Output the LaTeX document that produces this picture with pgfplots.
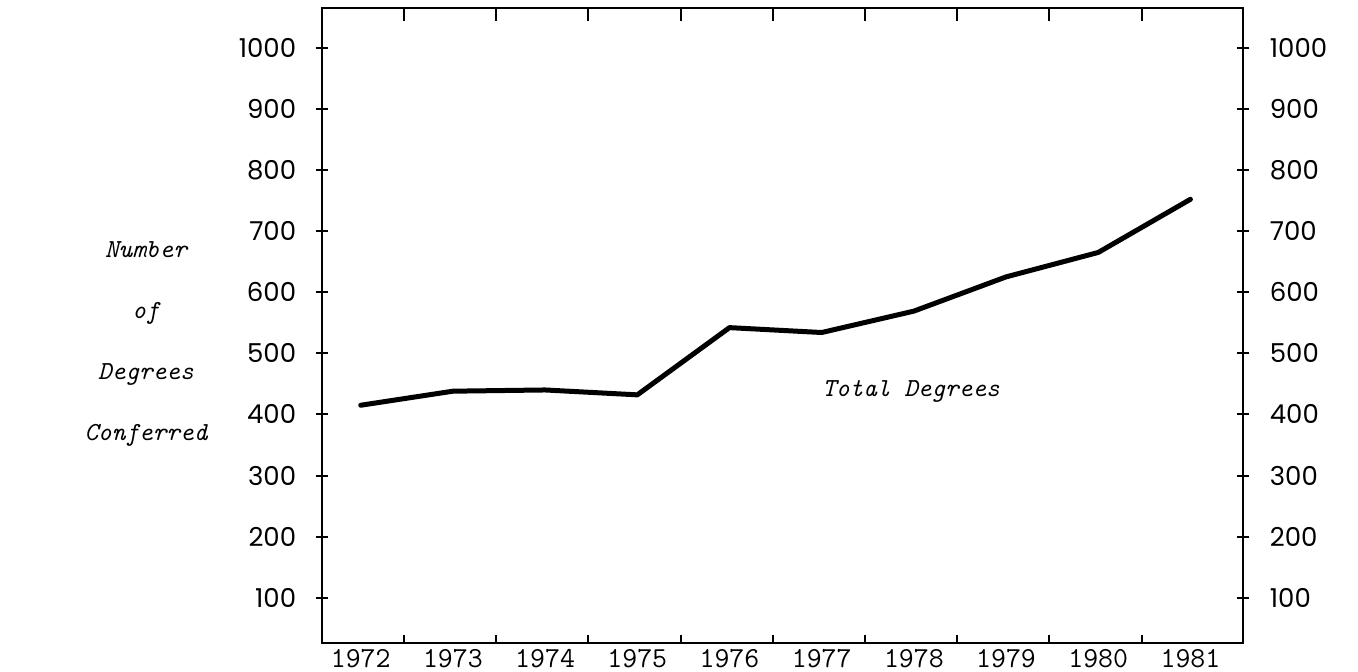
\documentclass[border=0pt]{standalone}
\usepackage{fontspec}
\usepackage{pgfplots}
\pgfplotsset{compat=1.18}
\newfontfamily\pop{Poppins}
\begin{document}
\begin{tikzpicture}
\pgfplotsset{
  common/.style={
    at={(0,0)}, anchor=south west, scale only axis,
    width=460.5pt, height=317.5pt,
    xmin=1971.58, xmax=1981.57, ymin=26, ymax=1065,
    axis line style={line width=1pt, black},
    every tick/.style={line width=1pt, black},
    /pgf/number format/1000 sep={},
    /pgf/number format/assume math mode=true,
    clip=false,
  },
}
% left y axis
\begin{axis}[common,
  tick align=center, major tick length=6.5pt,
  xtick=\empty,
  ytick={100,200,...,1000}, ytick pos=left, yticklabel pos=left,
  yticklabel style={font=\pop\fontsize{13}{15}\selectfont, anchor=east, inner sep=0pt, xshift=-9.5pt},
]
\end{axis}
% right y axis
\begin{axis}[common,
  tick align=center, major tick length=6.5pt,
  xtick=\empty,
  ytick={100,200,...,1000}, ytick pos=right, yticklabel pos=right,
  yticklabel style={font=\pop\fontsize{13}{15}\selectfont, anchor=west, inner sep=0pt, xshift=10pt},
]
\end{axis}
% top x ticks
\begin{axis}[common,
  tick align=inside, major tick length=6.5pt,
  ytick=\empty,
  xtick={1972.47,1973.47,1974.47,1975.47,1976.47,1977.47,1978.47,1979.47,1980.47},
  xtick pos=top, xticklabels={},
]
\end{axis}
% bottom x ticks, labels and data
\begin{axis}[common,
  tick align=inside, major tick length=4pt,
  ytick=\empty,
  xtick={1972.47,1973.47,1974.47,1975.47,1976.47,1977.47,1978.47,1979.47,1980.47},
  xtick pos=bottom, xticklabels={},
  extra x ticks={1972,1973,1974,1975,1976,1977,1978,1979,1980,1981},
  extra x tick labels={1972,1973,1974,1975,1976,1977,1978,1979,1980,1981},
  extra x tick style={major tick length=0pt,
    xticklabel style={font=\ttfamily\fontsize{14.5}{16}\selectfont, anchor=base, inner sep=0pt, yshift=-12.5pt}},
]
\addplot[black, line width=2.5pt, line join=round, line cap=round] coordinates {
  (1972,415) (1973,438) (1974,440) (1975,432) (1976,542)
  (1977,534) (1978,569) (1979,625) (1980,665) (1981,752)
};
\node[font=\ttfamily\itshape\fontsize{13}{15}\selectfont] at (axis cs:1977.97,438) {Total Degrees};
\end{axis}
\node[font=\ttfamily\itshape\fontsize{13}{30.5}\selectfont, align=center] at (-88pt,149.5pt)
  {Number\\of\\Degrees\\Conferred};
\pgfresetboundingbox
\path[use as bounding box] (-161pt,-14.5pt) rectangle (518pt,321.5pt);
\end{tikzpicture}
\end{document}
